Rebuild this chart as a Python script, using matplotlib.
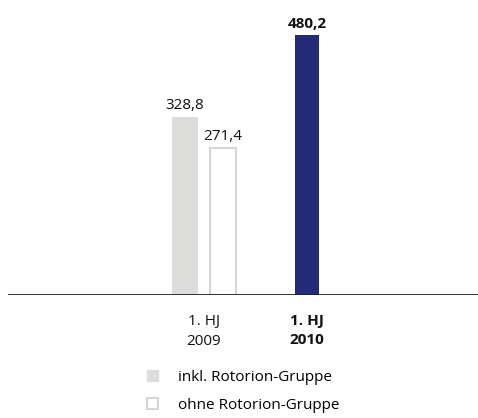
import matplotlib.pyplot as plt
from matplotlib.patches import Patch

# data
periods = ["1. HJ\n2009", "1. HJ\n2010"]
inkl = [328.8, 480.2]
ohne = [271.4, None]
labels_inkl = ["328,8", "480,2"]
labels_ohne = ["271,4"]
legend_labels = ["inkl. Rotorion-Gruppe", "ohne Rotorion-Gruppe"]

grey = "#dcdcda"
navy = "#232b78"
edge = "#d6d6d6"

plt.rcParams['font.family'] = ['Open Sans', 'DejaVu Sans']
fs = 11

fig = plt.figure(figsize=(4.78, 4.18), dpi=100)
ax = fig.add_axes([8 / 478, 123 / 418, 470 / 478, 295 / 418])
ax.set_xlim(-196 / 103, 274 / 103)
ax.set_ylim(0, 545)
ax.axis("off")

w = 0.25
off = 0.184

# 2009: two bars side by side
ax.bar(0 - off, inkl[0], width=w, color=grey, zorder=2)
ax.bar(0 + off, ohne[0], width=w * 1.04, color="white", edgecolor=edge, linewidth=1.5, zorder=2)
# 2010: single bar
ax.bar(1, inkl[1], width=w * 0.97, color=navy, zorder=2)

ax.text(0 - off, inkl[0] + 8, labels_inkl[0], ha="center", va="bottom", fontsize=fs, color="#111111")
ax.text(0 + off, ohne[0] + 8, labels_ohne[0], ha="center", va="bottom", fontsize=fs, color="#111111")
ax.text(1, inkl[1] + 8, labels_inkl[1], ha="center", va="bottom", fontsize=fs,
        fontweight="bold", color="#111111")

ax.axhline(0, color="#222222", linewidth=1.3, zorder=3)

# category labels below axis
ax.text(0, -36, periods[0], ha="center", va="top", fontsize=fs, linespacing=1.4, color="#111111")
ax.text(1, -36, periods[1], ha="center", va="top", fontsize=fs, linespacing=1.4,
        fontweight="bold", color="#111111")

handles = [Patch(facecolor=grey, edgecolor=grey),
           Patch(facecolor="white", edgecolor=edge, linewidth=1.5)]
fig.legend(handles, legend_labels, loc="upper left", bbox_to_anchor=(147 / 478, 1 - 370 / 418),
           frameon=False, fontsize=fs, handlelength=0.7, handleheight=0.7,
           handletextpad=1.3, labelspacing=0.85, borderpad=0, borderaxespad=0)

fig.savefig("out.png", dpi=100)
